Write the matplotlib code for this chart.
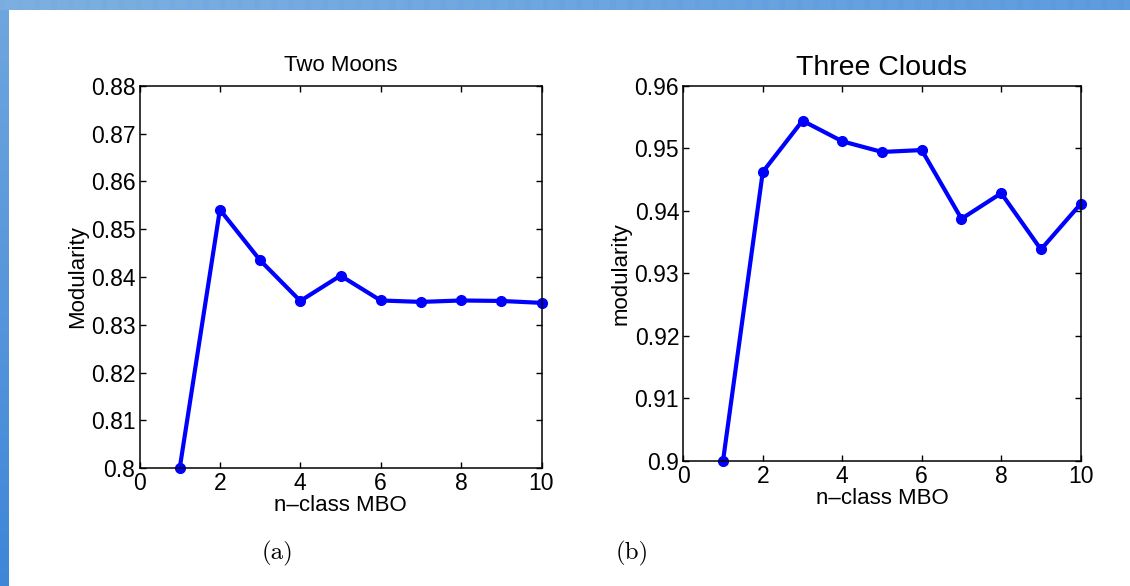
import numpy as np
import matplotlib.pyplot as plt
from matplotlib.colors import LinearSegmentedColormap

# n-class MBO results
n_class = [1, 2, 3, 4, 5, 6, 7, 8, 9, 10]
two_moons = [0.800, 0.8541, 0.8435, 0.8350, 0.8403, 0.8351, 0.8348, 0.8351, 0.8350, 0.8346]
three_clouds = [0.900, 0.9462, 0.9544, 0.9511, 0.9494, 0.9497, 0.9387, 0.9428, 0.9338, 0.9411]

x_ticks = [0, 2, 4, 6, 8, 10]
moons_yticks = [0.80, 0.81, 0.82, 0.83, 0.84, 0.85, 0.86, 0.87, 0.88]
moons_ylabels = ['0.8', '0.81', '0.82', '0.83', '0.84', '0.85', '0.86', '0.87', '0.88']
clouds_yticks = [0.90, 0.91, 0.92, 0.93, 0.94, 0.95, 0.96]
clouds_ylabels = ['0.9', '0.91', '0.92', '0.93', '0.94', '0.95', '0.96']

plt.rcParams['font.family'] = ['Liberation Sans', 'DejaVu Sans']

fig = plt.figure(figsize=(11.3, 5.86), dpi=100)
fig.patch.set_facecolor('white')

# slide frame (blue bars on top and left)
W, H = 1130, 586
top_bar = fig.add_axes([0, 1 - 10 / H, 1, 10 / H])
grad = np.linspace(0, 1, 400)[None, :]
stripes = 0.08 * (np.arange(400) % 6 < 2)[None, :]
top_bar.imshow(grad * 0.6 + stripes, cmap=LinearSegmentedColormap.from_list(
    'bar', ['#7db0e0', '#4a8fde']), aspect='auto', vmin=0, vmax=1)
top_bar.axis('off')
left_bar = fig.add_axes([0, 0, 9 / W, 1 - 10 / H])
left_bar.imshow(np.linspace(0, 1, 200)[:, None] * np.ones((1, 4)), cmap=LinearSegmentedColormap.from_list(
    'lbar', ['#6ea6de', '#3f86d9']), aspect='auto')
left_bar.axis('off')

fs = 16


def style_axes(ax):
    ax.tick_params(direction='in', top=True, right=True, length=4.5, width=1,
                   labelsize=16.5, pad=3)
    for sp in ax.spines.values():
        sp.set_linewidth(1.1)


ax1 = fig.add_axes([139.5 / W, 1 - 468.3 / H, 402 / W, 382.5 / H])
ax1.plot(n_class, two_moons, color='#0000ff', lw=3, marker='o', ms=7, clip_on=False)
ax1.set_xlim(0, 10)
ax1.set_ylim(0.80, 0.88)
ax1.set_xticks(x_ticks)
ax1.set_yticks(moons_yticks)
ax1.set_yticklabels(moons_ylabels)
style_axes(ax1)
ax1.set_title('Two Moons', fontsize=16, pad=11)
ax1.set_xlabel('n\u2013class MBO', fontsize=fs, labelpad=0)
ax1.set_ylabel('Modularity', fontsize=fs, labelpad=2)

ax2 = fig.add_axes([683.3 / W, 1 - 460.7 / H, 397.4 / W, 375 / H])
ax2.plot(n_class, three_clouds, color='#0000ff', lw=3, marker='o', ms=7, clip_on=False)
ax2.set_xlim(0, 10)
ax2.set_ylim(0.90, 0.96)
ax2.set_xticks(x_ticks)
ax2.set_yticks(clouds_yticks)
ax2.set_yticklabels(clouds_ylabels)
style_axes(ax2)
ax2.set_title('Three Clouds', fontsize=20.5, pad=8)
ax2.set_xlabel('n\u2013class MBO', fontsize=fs, labelpad=0)
ax2.set_ylabel('modularity', fontsize=fs, labelpad=2)

fig.text(278 / W, 1 - 553 / H, '(a)', family='cmr10', fontsize=18, ha='center', va='center')
fig.text(632 / W, 1 - 553 / H, '(b)', family='cmr10', fontsize=18, ha='center', va='center')

fig.savefig('out.png', dpi=100)
